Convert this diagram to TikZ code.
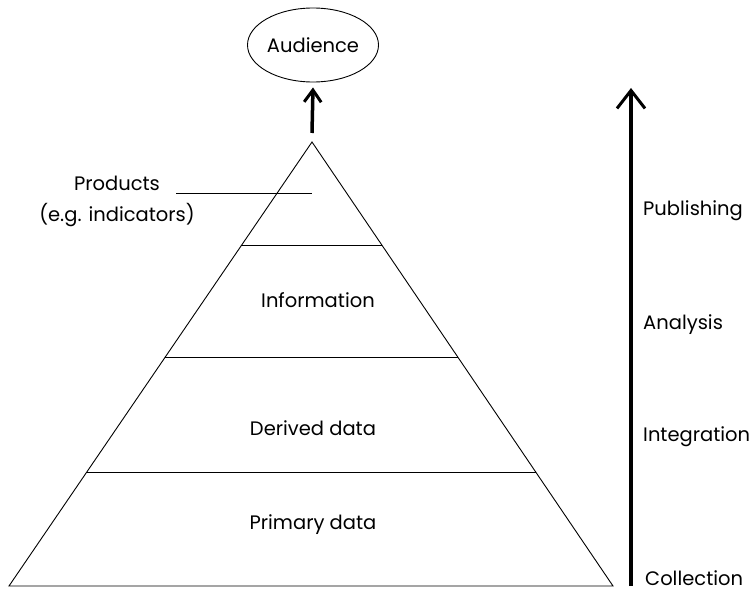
\documentclass[tikz,border=0pt]{standalone}
\usepackage{fontspec}
\setmainfont{Poppins}
\usetikzlibrary{calc}
\usetikzlibrary{positioning}
\usetikzlibrary{arrows.meta}
\usetikzlibrary{shapes.geometric}

\begin{document}
\begin{tikzpicture}[x=1pt,y=-1pt]
\tikzstyle{lbl}=[font=\fontsize{19.5}{31}\selectfont,inner sep=0pt]
\tikzstyle{edge}=[line width=0.9pt]
\useasboundingbox (0,0) rectangle (756,591);
% pyramid
\coordinate (apex) at (312,142);
\coordinate (bl) at (9,586);
\coordinate (br) at (613,586);
\draw[edge] (apex) -- (bl) -- (br) -- cycle;
\foreach \t in {0.234,0.486,0.745}
  \draw[edge] ($(apex)!\t!(bl)$) -- ($(apex)!\t!(br)$);
\node[lbl] (info) at (318,300) {Information};
\node[lbl] (derived) at (313,428) {Derived data};
\node[lbl] (primary) at (313,525) {Primary data};
% products label
\node[lbl,align=center] (prod) at (117,201) {Products\\(e.g. indicators)};
\coordinate (prodstart) at (176,193);
\coordinate (prodend) at (312,193);
\draw[edge] (prodstart) -- (prodend);
% audience
\node[lbl,ellipse,draw,line width=0.9pt,minimum width=131pt,minimum height=74pt] (aud) at (313,45) {Audience};
\coordinate (up) at (312,133);
\draw[line width=3.5pt,-{Straight Barb[length=12pt,width=17pt,line width=3pt]}] (up) -- ($(aud.south)+(0,5)$);
% process arrow
\coordinate (pbot) at (631,586);
\coordinate (ptop) at (631,88);
\draw[line width=4pt,-{Straight Barb[length=18pt,width=28pt,line width=3pt]}] (pbot) -- (ptop);
\node[lbl,anchor=west] (publ) at (643,211) {Publishing};
\node[lbl,anchor=west] (anal) at (643,325) {Analysis};
\node[lbl,anchor=west] (integ) at (643,437) {Integration};
\node[lbl,anchor=west] (coll) at (645,578) {Collection};
\end{tikzpicture}
\end{document}
